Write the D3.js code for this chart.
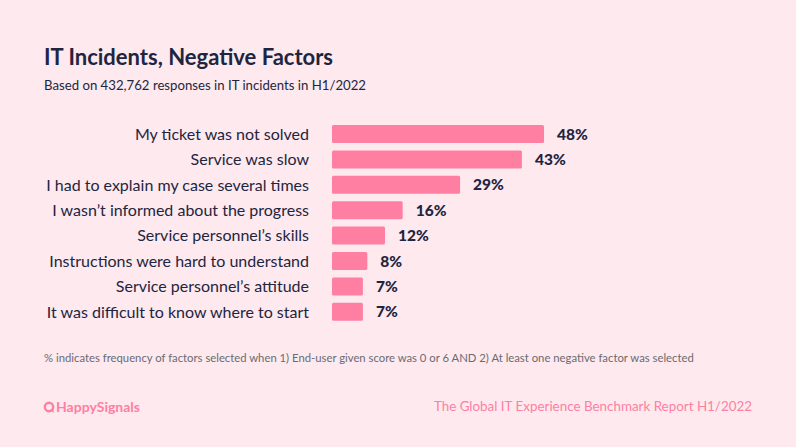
<!DOCTYPE html>
<html>
<head>
<meta charset="utf-8">
<script src="https://cdn.jsdelivr.net/npm/d3@7"></script>
<style>
  html, body { margin: 0; padding: 0; background: #fde9ee; }
  svg { display: block; font-family: "Lato", "Noto Sans", sans-serif; }
</style>
</head>
<body>
<div id="chart"></div>
<script>
// chart values
const factors = [
  "My ticket was not solved",
  "Service was slow",
  "I had to explain my case several times",
  "I wasn\u2019t informed about the progress",
  "Service personnel\u2019s skills",
  "Instructions were hard to understand",
  "Service personnel\u2019s attitude",
  "It was difficult to know where to start"
];
const shares = [48, 43, 29, 16, 12, 8, 7, 7];

const W = 796, H = 447;
const ink = "#1f2540", pink = "#ff7fa2";

const svg = d3.select("#chart").append("svg")
    .attr("width", W).attr("height", H);

svg.append("rect").attr("width", W).attr("height", H).attr("fill", "#fde9ee");

// titles
svg.append("text").attr("x", 44).attr("y", 65)
    .attr("fill", ink).attr("font-size", 22).attr("font-weight", 700)
    .text("IT Incidents, Negative Factors");
svg.append("text").attr("x", 44).attr("y", 90)
    .attr("fill", ink).attr("font-size", 13.2)
    .text("Based on 432,762 responses in IT incidents in H1/2022");

// bars
const x = d3.scaleLinear().domain([0, 48]).range([332, 544]);
const y = d3.scaleBand().domain(factors).range([121.3, 324.5]).paddingInner(0.29).paddingOuter(0.145);

const rows = svg.append("g").selectAll("g")
    .data(factors.map((f, i) => ({ f, v: shares[i] })))
    .join("g");

rows.append("rect")
    .attr("x", x(0))
    .attr("y", d => y(d.f))
    .attr("width", d => x(d.v) - x(0))
    .attr("height", y.bandwidth())
    .attr("rx", 1.5)
    .attr("fill", pink);

rows.append("text")
    .attr("x", 309)
    .attr("y", d => y(d.f) + y.bandwidth() / 2)
    .attr("dy", "0.36em")
    .attr("text-anchor", "end")
    .attr("fill", ink).attr("font-size", 16)
    .text(d => d.f);

rows.append("text")
    .attr("x", d => x(d.v) + 13)
    .attr("y", d => y(d.f) + y.bandwidth() / 2)
    .attr("dy", "0.36em")
    .attr("fill", ink).attr("font-size", 15.5).attr("font-weight", 900)
    .text(d => d.v + "%");

// footnote
svg.append("text").attr("x", 44).attr("y", 362)
    .attr("fill", "#6b6b73").attr("font-size", 11.3)
    .text("% indicates frequency of factors selected when 1) End-user given score was 0 or 6 AND 2) At least one negative factor was selected");

// footer
const logo = svg.append("g").attr("transform", "translate(44,406)");
logo.append("circle").attr("cx", 5).attr("cy", 1).attr("r", 4.2)
    .attr("fill", "none").attr("stroke", pink).attr("stroke-width", 2.4);
logo.append("path").attr("d", "M6,4 L10,7 L9,2 Z").attr("fill", pink);
logo.append("text").attr("x", 12).attr("y", 6)
    .attr("fill", pink).attr("font-size", 14).attr("font-weight", 700)
    .text("HappySignals");

svg.append("text").attr("x", 752).attr("y", 411)
    .attr("text-anchor", "end")
    .attr("fill", pink).attr("font-size", 13.4)
    .text("The Global IT Experience Benchmark Report H1/2022");
</script>
</body>
</html>
